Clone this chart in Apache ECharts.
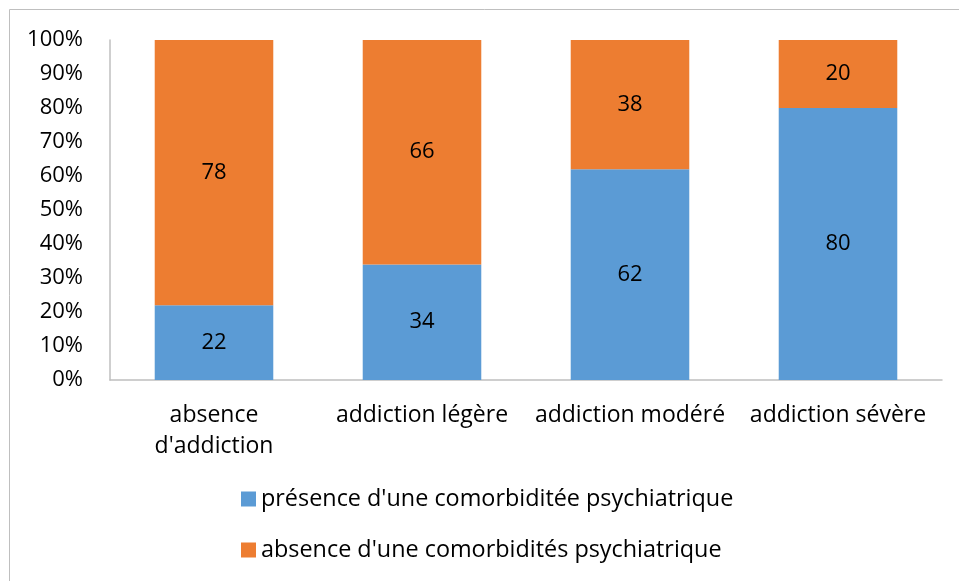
<!DOCTYPE html>
<html>
<head>
<meta charset="utf-8">
<script src="https://cdn.jsdelivr.net/npm/echarts@6/dist/echarts.min.js"></script>
<style>
  html, body { margin: 0; padding: 0; background: #fff; }
  #chart { width: 959px; height: 581px; }
</style>
</head>
<body>
<div id="chart"></div>
<script>
// Addiction level categories and the share (%) of each comorbidity group
const categories = ["absence\nd'addiction", "addiction légère", "addiction modéré", "addiction sévère"];
const presenceValues = [22, 34, 62, 80];
const absenceValues = [78, 66, 38, 20];
const seriesNames = ["présence d'une comorbiditée psychiatrique", "absence d'une comorbidités psychiatrique"];
const yTicks = [0, 10, 20, 30, 40, 50, 60, 70, 80, 90, 100];

const FONT = 'Open Sans';
const chart = echarts.init(document.getElementById('chart'));

const labelStyle = { show: true, position: 'inside', color: '#000', fontSize: 22, fontFamily: FONT };

chart.setOption({
  animation: false,
  textStyle: { fontFamily: FONT },
  graphic: [{
    type: 'rect',
    shape: { x: 9.5, y: 9.5, width: 1000, height: 700 },
    style: { fill: 'none', stroke: '#bfbfbf', lineWidth: 1 },
    silent: true
  }],
  grid: { left: 110, right: 17, top: 40, bottom: 201, containLabel: false },
  legend: {
    orient: 'vertical',
    left: 241,
    top: 485,
    padding: 0,
    itemWidth: 15,
    itemHeight: 15,
    itemGap: 23,
    icon: 'rect',
    textStyle: { fontSize: 23.4, lineHeight: 28, color: '#000', fontFamily: FONT },
    data: seriesNames
  },
  xAxis: {
    type: 'category',
    data: categories,
    axisLine: { lineStyle: { color: '#bfbfbf', width: 1.5 } },
    axisTick: { show: false },
    axisLabel: { color: '#000', fontSize: 23, fontFamily: FONT, margin: 20, lineHeight: 31, interval: 0 }
  },
  yAxis: {
    type: 'value',
    min: yTicks[0],
    max: yTicks[yTicks.length - 1],
    interval: 10,
    axisLine: { show: true, lineStyle: { color: '#bfbfbf', width: 1.5 } },
    axisTick: { show: false },
    splitLine: { show: false },
    axisLabel: { color: '#000', fontSize: 22, fontFamily: FONT, margin: 27, formatter: v => v + '%' }
  },
  series: [
    {
      name: seriesNames[0],
      type: 'bar',
      stack: 'total',
      barCategoryGap: '43%',
      data: presenceValues,
      itemStyle: { color: '#5B9BD5' },
      label: labelStyle
    },
    {
      name: seriesNames[1],
      type: 'bar',
      stack: 'total',
      barCategoryGap: '43%',
      data: absenceValues,
      itemStyle: { color: '#ED7D31' },
      label: labelStyle
    }
  ]
});
</script>
</body>
</html>
